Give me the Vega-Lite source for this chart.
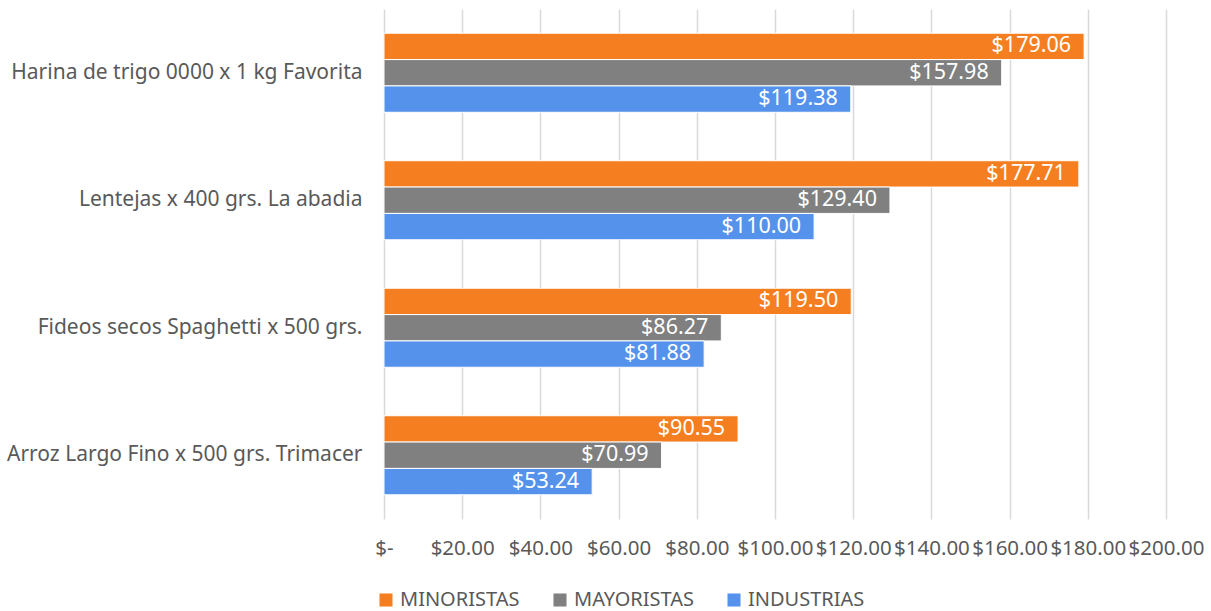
{
  "$schema": "https://vega.github.io/schema/vega-lite/v6.json",
  "width": 782,
  "height": 510,
  "autosize": {"type": "none"},
  "padding": {"left": 384, "top": 9, "right": 45, "bottom": 92},
  "background": "white",
  "config": {
    "view": {"stroke": null},
    "font": "Noto Sans",
    "text": {"font": "Noto Sans"}
  },
  "data": {
    "values": [
      {"producto": "Harina de trigo 0000 x 1 kg Favorita", "canal": "MINORISTAS", "precio": 179.06},
      {"producto": "Harina de trigo 0000 x 1 kg Favorita", "canal": "MAYORISTAS", "precio": 157.98},
      {"producto": "Harina de trigo 0000 x 1 kg Favorita", "canal": "INDUSTRIAS", "precio": 119.38},
      {"producto": "Lentejas x 400 grs. La abadia", "canal": "MINORISTAS", "precio": 177.71},
      {"producto": "Lentejas x 400 grs. La abadia", "canal": "MAYORISTAS", "precio": 129.40},
      {"producto": "Lentejas x 400 grs. La abadia", "canal": "INDUSTRIAS", "precio": 110.00},
      {"producto": "Fideos secos Spaghetti x 500 grs.", "canal": "MINORISTAS", "precio": 119.50},
      {"producto": "Fideos secos Spaghetti x 500 grs.", "canal": "MAYORISTAS", "precio": 86.27},
      {"producto": "Fideos secos Spaghetti x 500 grs.", "canal": "INDUSTRIAS", "precio": 81.88},
      {"producto": "Arroz Largo Fino x 500 grs. Trimacer", "canal": "MINORISTAS", "precio": 90.55},
      {"producto": "Arroz Largo Fino x 500 grs. Trimacer", "canal": "MAYORISTAS", "precio": 70.99},
      {"producto": "Arroz Largo Fino x 500 grs. Trimacer", "canal": "INDUSTRIAS", "precio": 53.24}
    ]
  },
  "encoding": {
    "y": {
      "field": "producto",
      "type": "nominal",
      "sort": ["Harina de trigo 0000 x 1 kg Favorita", "Lentejas x 400 grs. La abadia", "Fideos secos Spaghetti x 500 grs.", "Arroz Largo Fino x 500 grs. Trimacer"],
      "scale": {"paddingInner": 0.38, "paddingOuter": 0.19},
      "axis": {
        "title": null,
        "domain": false,
        "ticks": false,
        "labelFont": "Noto Sans",
        "labelFontSize": 21,
        "labelColor": "#595959",
        "labelPadding": 22,
        "labelLimit": 400
      }
    },
    "yOffset": {
      "field": "canal",
      "type": "nominal",
      "sort": ["MINORISTAS", "MAYORISTAS", "INDUSTRIAS"]
    },
    "x": {
      "field": "precio",
      "type": "quantitative",
      "scale": {"domain": [0, 200], "nice": false},
      "axis": {
        "title": null,
        "values": [0, 20, 40, 60, 80, 100, 120, 140, 160, 180, 200],
        "labelExpr": "datum.value == 0 ? '$-' : '$' + format(datum.value, '.2f')",
        "domain": false,
        "ticks": false,
        "grid": true,
        "gridColor": "#d9d9d9",
        "gridWidth": 1.5,
        "labelFont": "Noto Sans",
        "labelFontSize": 20.5,
        "labelColor": "#595959",
        "labelPadding": 19,
        "labelFlush": false,
        "labelOverlap": false
      }
    }
  },
  "layer": [
    {
      "mark": {"type": "bar", "stroke": "white", "strokeWidth": 1},
      "encoding": {
        "color": {
          "field": "canal",
          "type": "nominal",
          "sort": ["MINORISTAS", "MAYORISTAS", "INDUSTRIAS"],
          "scale": {"domain": ["MINORISTAS", "MAYORISTAS", "INDUSTRIAS"], "range": ["#F57F20", "#808080", "#5592EC"]},
          "legend": {
            "title": null,
            "orient": "none",
            "direction": "horizontal",
            "legendX": -8,
            "legendY": 581,
            "symbolType": "square",
            "symbolSize": 170,
            "symbolStrokeWidth": 0,
            "labelFont": "Noto Sans",
            "labelFontSize": 20,
            "labelColor": "#595959",
            "columnPadding": 30,
            "labelOffset": 4
          }
        }
      }
    },
    {
      "mark": {"type": "text", "align": "right", "dx": -13, "color": "white", "font": "Noto Sans", "fontSize": 21.5, "baseline": "middle"},
      "encoding": {
        "text": {"field": "precio", "type": "quantitative", "format": "$,.2f"}
      }
    }
  ]
}
